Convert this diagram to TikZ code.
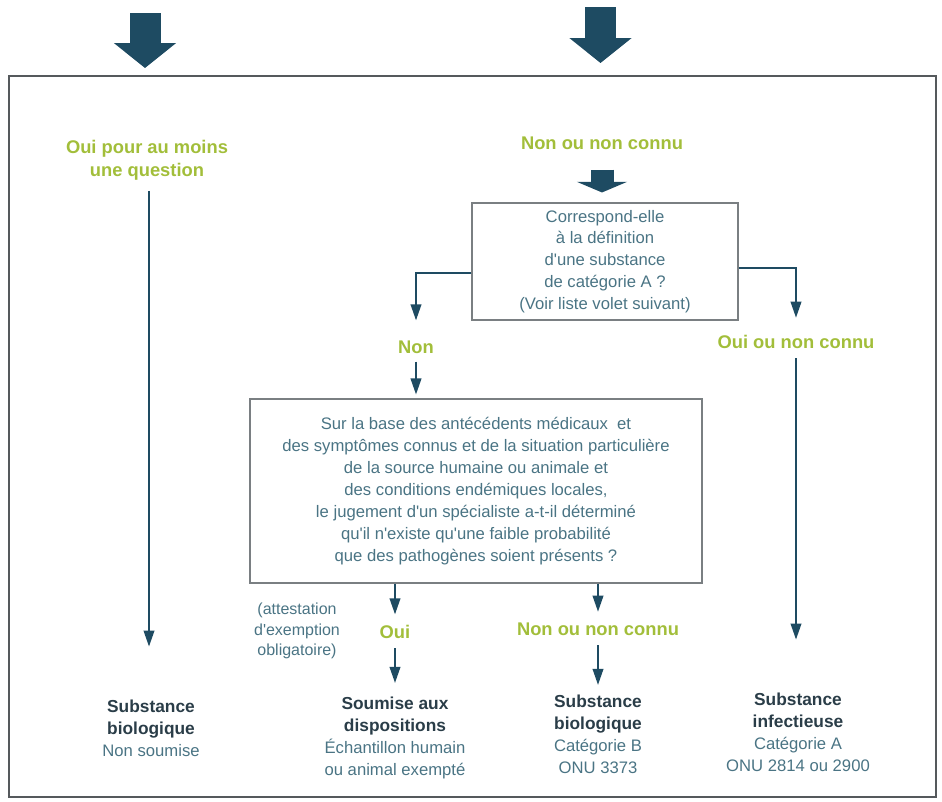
\documentclass[tikz,border=0pt]{standalone}
\usepackage{fontspec}
\setmainfont{Liberation Sans}[Ligatures=TeXOff]
\usetikzlibrary{arrows.meta, positioning}

\definecolor{flowblue}{HTML}{1E4B62}
\definecolor{answergreen}{HTML}{A2BE3A}
\definecolor{textblue}{HTML}{4A7484}
\definecolor{titledark}{HTML}{2A3D48}
\definecolor{boxgray}{HTML}{7A7F82}
\definecolor{framegray}{HTML}{55595C}

\tikzset{
    flow/.style={draw=flowblue, line width=1.3pt, -{Triangle[width=8pt, length=12pt]}},
    bigflow/.style={draw=flowblue, line width=23.25pt, -{Triangle[width=45.75pt, length=18.75pt]}},
    smallflow/.style={draw=flowblue, line width=17.25pt, -{Triangle[width=37.5pt, length=8pt]}},
    question/.style={draw=boxgray, line width=0.8pt, text=textblue, align=center, inner sep=0pt,
        font=\fontsize{12.5}{16.4}\selectfont},
    answer/.style={text=answergreen, align=center, inner sep=0pt,
        font=\bfseries\fontsize{13.75}{17.25}\selectfont},
    result/.style={text=textblue, align=center, inner sep=0pt,
        font=\fontsize{12.5}{16.5}\selectfont},
}
\newcommand{\restitle}[1]{\textcolor{titledark}{\bfseries\fontsize{13}{16.5}\selectfont #1}}

\begin{document}
\begin{tikzpicture}[x=0.75pt, y=-0.75pt]
    \useasboundingbox (0,0) rectangle (942,801);
    \draw[framegray, line width=1.1pt] (9,76) rectangle (936,797);

    % incoming arrows
    \coordinate (In Left)   at (145,13);
    \coordinate (In Left')  at (145,68);
    \coordinate (In Right)  at (600.5,7);
    \coordinate (In Right') at (600.5,63);
    \draw[bigflow] (In Left) -- (In Left');
    \draw[bigflow] (In Right) -- (In Right');

    % questions and answers
    \node[answer]   (Oui Moins) at (147,160.5) {Oui pour au moins\\une question};
    \node[answer]   (Non 1)     at (602,143)   {Non ou non connu};
    \node[question, minimum width=199.5pt, minimum height=87.75pt] (Question A) at (605,261.5)
        {Correspond-elle\\à la définition\\d'une substance\\de catégorie A ?\\(Voir liste volet suivant)};
    \node[answer]   (Non 2)     at (416,347)   {Non};
    \node[answer]   (Oui 2)     at (796,342)   {Oui ou non connu};
    \node[question, minimum width=339pt, minimum height=138pt] (Question B) at (476,491)
        {Sur la base des antécédents médicaux~ et\\des symptômes connus et de la situation particulière\\
         de la source humaine ou animale et\\des conditions endémiques locales,\\
         le jugement d'un spécialiste a-t-il déterminé\\qu'il n'existe qu'une faible probabilité\\
         que des pathogènes soient présents ?};
    \node[answer]   (Oui 3)     at (395,632)   {Oui};
    \node[answer]   (Non 3)     at (598,629)   {Non ou non connu};
    \node[result, font=\fontsize{12}{15.5}\selectfont] (Attestation) at (297,631)
        {(attestation\\d'exemption\\obligatoire)};

    % results
    \node[result] (Bio Libre)   at (151,728.5) {\restitle{Substance}\\\restitle{biologique}\\Non soumise};
    \node[result] (Exempte)     at (395,737.5) {\restitle{Soumise aux}\\\restitle{dispositions}\\Échantillon humain\\ou animal exempté};
    \node[result] (Bio B)       at (598,734.5) {\restitle{Substance}\\\restitle{biologique}\\Catégorie B\\ONU 3373};
    \node[result] (Infectieuse) at (798,732.5) {\restitle{Substance}\\\restitle{infectieuse}\\Catégorie A\\ONU 2814 ou 2900};

    % connectors
    \draw[flow, shorten <=7.5pt, shorten >=40pt] ([xshift=1.5pt]Oui Moins.south) -- ([xshift=1.5pt]Oui Moins.south |- Bio Libre.north);
    \draw[smallflow, shorten <=15pt, shorten >=7.5pt] (Non 1.south) -- (Non 1.south |- Question A.north);
    \draw[flow, shorten >=15pt] ([yshift=-8.6pt]Question A.west) -| (Non 2.north);
    \draw[flow, shorten >=13pt] ([yshift=-4.9pt]Question A.east) -| (Oui 2.north);
    \draw[flow, shorten <=6pt, shorten >=3pt] (Non 2.south) -- (Non 2.south |- Question B.north);
    \draw[flow, shorten <=7pt, shorten >=40pt] (Oui 2.south) -- (Oui 2.south |- Infectieuse.north);
    \draw[flow, shorten >=8pt] (Oui 3.north |- Question B.south) -- (Oui 3.north);
    \draw[flow, shorten <=7pt, shorten >=10pt] (Oui 3.south) -- (Oui 3.south |- Exempte.north);
    \draw[flow, shorten >=8pt] (Non 3.north |- Question B.south) -- (Non 3.north);
    \draw[flow, shorten <=7pt, shorten >=7.5pt] (Non 3.south) -- (Non 3.south |- Bio B.north);
\end{tikzpicture}
\end{document}
